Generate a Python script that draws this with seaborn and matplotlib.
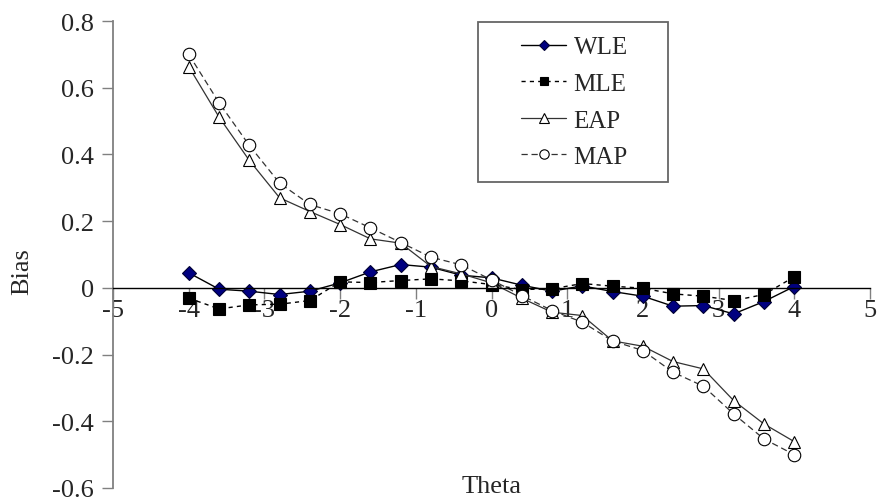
import numpy as np
import pandas as pd
import seaborn as sns
import matplotlib.pyplot as plt
from matplotlib.patches import Rectangle

theta = [-4.0, -3.6, -3.2, -2.8, -2.4, -2.0, -1.6, -1.2, -0.8, -0.4, 0.0,
         0.4, 0.8, 1.2, 1.6, 2.0, 2.4, 2.8, 3.2, 3.6, 4.0]
wle = [0.045, -0.004, -0.010, -0.020, -0.010, 0.015, 0.048, 0.070, 0.062, 0.038, 0.030,
       0.008, -0.010, 0.006, -0.011, -0.025, -0.055, -0.053, -0.078, -0.041, 0.004]
mle = [-0.031, -0.063, -0.051, -0.049, -0.038, 0.018, 0.016, 0.022, 0.027, 0.021, 0.010,
       -0.005, -0.003, 0.013, 0.005, -0.001, -0.018, -0.025, -0.038, -0.020, 0.033]
eap = [0.663, 0.512, 0.382, 0.270, 0.229, 0.190, 0.147, 0.134, 0.064, 0.042, 0.015,
       -0.031, -0.073, -0.083, -0.159, -0.175, -0.221, -0.243, -0.338, -0.408, -0.461]
map_ = [0.700, 0.555, 0.427, 0.314, 0.250, 0.222, 0.180, 0.136, 0.092, 0.069, 0.024,
        -0.023, -0.068, -0.103, -0.159, -0.188, -0.253, -0.295, -0.378, -0.453, -0.500]

xticks = [-5, -4, -3, -2, -1, 0, 1, 2, 3, 4, 5]
yticks = [-0.6, -0.4, -0.2, 0, 0.2, 0.4, 0.6, 0.8]
ylabels = ['-0.6', '-0.4', '-0.2', '0', '0.2', '0.4', '0.6', '0.8']

df = pd.DataFrame({'Theta': theta, 'WLE': wle, 'MLE': mle, 'EAP': eap, 'MAP': map_})

sns.set_style('white')
plt.rcParams['font.family'] = ['Liberation Serif', 'DejaVu Serif']

fig = plt.figure(figsize=(8.84, 5.02), dpi=100)
ax = fig.add_axes([0.128, 0.026, 0.856, 0.930])

styles = {
    'WLE': dict(color='black', linestyle='-', marker='D', markersize=7,
                markerfacecolor='#000080', markeredgecolor='#000033', lw=1.0),
    'MLE': dict(color='black', linestyle=(0, (3, 3)), marker='s', markersize=8,
                markerfacecolor='black', markeredgecolor='black', lw=1.0),
    'EAP': dict(color='#333333', linestyle='-', marker='^', markersize=9,
                markerfacecolor='white', markeredgecolor='black', lw=0.9),
    'MAP': dict(color='#333333', linestyle=(0, (5, 3)), marker='o', markersize=9,
                markerfacecolor='white', markeredgecolor='black', lw=0.9),
}
for name in ['WLE', 'MLE', 'EAP', 'MAP']:
    s = styles[name]
    sns.lineplot(data=df, x='Theta', y=name, ax=ax, label=name,
                 color=s['color'], linestyle=s['linestyle'], lw=s['lw'],
                 marker=s['marker'], markersize=s['markersize'],
                 markerfacecolor=s['markerfacecolor'],
                 markeredgecolor=s['markeredgecolor'], markeredgewidth=0.8)

ax.set_xlim(-5, 5)
ax.set_ylim(-0.6, 0.8)
ax.set_xticks(xticks)
ax.set_xticklabels([str(t) for t in xticks])
ax.set_yticks(yticks)
ax.set_yticklabels(ylabels)

ax.spines['top'].set_visible(False)
ax.spines['right'].set_visible(False)
ax.spines['bottom'].set_position(('data', 0))
ax.spines['bottom'].set_color('black')
ax.spines['bottom'].set_linewidth(1.0)
ax.spines['left'].set_color('#808080')
ax.spines['left'].set_linewidth(1.3)

ax.tick_params(axis='x', direction='out', length=8, width=1, color='#808080',
               labelsize=19, pad=0, bottom=True)
ax.tick_params(axis='y', direction='out', length=8, width=1, color='#808080',
               labelsize=19, pad=6, left=True)

ax.set_xlabel('Theta', fontsize=19)
ax.set_ylabel('Bias', fontsize=19)
ax.xaxis.set_label_coords(0.5, 0.028)
ax.yaxis.set_label_coords(-0.105, 0.465)

# legend without its own frame; box drawn separately to match the wide padding
leg = ax.legend(loc='upper left', bbox_to_anchor=(521 / 884, 1 - 37 / 502),
                bbox_transform=fig.transFigure, fontsize=18, frameon=False,
                borderpad=0, borderaxespad=0,
                labelspacing=0.56, handlelength=1.8, handletextpad=0.3,
                markerscale=0.75)
fig.patches.append(Rectangle((478 / 884, 1 - 183 / 502), 190 / 884, 160 / 502,
                             transform=fig.transFigure, fill=False,
                             edgecolor='#666666', linewidth=1.3))

fig.savefig('out.png', dpi=100)
